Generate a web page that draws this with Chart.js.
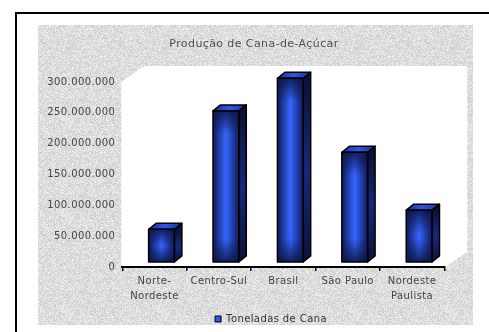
<!DOCTYPE html>
<html>
<head>
<meta charset="utf-8">
<script src="https://cdn.jsdelivr.net/npm/chart.js@4/dist/chart.umd.min.js"></script>
<style>
  html, body { margin: 0; padding: 0; background: #fff; }
  #wrap { width: 489px; height: 332px; position: relative; }
</style>
</head>
<body>
<div id="wrap"><canvas id="c" width="489" height="332"></canvas></div>
<script>
// ---- data ----
const categories = [['Norte-', 'Nordeste'], 'Centro-Sul', 'Brasil', 'São Paulo', ['Nordeste', 'Paulista']];
const seriesName = 'Toneladas de Cana';
const toneladas = [53000000, 245000000, 298000000, 178000000, 84000000];
const yTicksMax = 300000000;
const yTicksStep = 50000000;
const chartTitle = 'Produção de Cana-de-Açúcar';

// ---- helpers ----
function fmt(n) {
  return String(Math.round(n)).replace(/\B(?=(\d{3})+(?!\d))/g, '.');
}

// deterministic speckle texture for the grey panel
function makeTexture() {
  const c = document.createElement('canvas');
  c.width = 96; c.height = 96;
  const g = c.getContext('2d');
  const img = g.createImageData(96, 96);
  let s = 12345;
  for (let i = 0; i < 96 * 96; i++) {
    s = (s * 1103515245 + 12345) & 0x7fffffff;
    const r = (s >> 8) % 100;
    const v = 203 + Math.floor(r * 0.38);
    img.data[i * 4] = v; img.data[i * 4 + 1] = v; img.data[i * 4 + 2] = v; img.data[i * 4 + 3] = 255;
  }
  g.putImageData(img, 0, 0);
  return c;
}

const OX = 7, OY = 5;      // bar placement inside depth
const DX = 7.5, DY = 6;    // bar depth
const WX = 23, WY = 16;    // wall depth
const SPACING = '0.4px';

const backdrop = {
  id: 'backdrop',
  beforeLayout(chart) { chart.ctx.letterSpacing = SPACING; },
  afterLayout(chart) {
    const lg = chart.legend;
    if (lg) { lg.left += 48.85; lg.right += 48.85; lg.top += 2; lg.bottom += 2; }
    const tb = chart.titleBlock;
    if (tb) { tb.left += 31.85; tb.right += 31.85; }
  },
  beforeDraw(chart) {
    const ctx = chart.ctx;
    const a = chart.chartArea;
    ctx.save();
    ctx.fillStyle = '#ffffff';
    ctx.fillRect(0, 0, chart.width, chart.height);
    // frame
    ctx.strokeStyle = '#000';
    ctx.lineWidth = 2;
    ctx.beginPath();
    ctx.moveTo(16, 340); ctx.lineTo(16, 13); ctx.lineTo(500, 13);
    ctx.stroke();
    // grey textured panel
    const pat = ctx.createPattern(makeTexture(), 'repeat');
    ctx.fillStyle = pat;
    ctx.fillRect(38, 25, 435, 300);
    // white walls / plot area
    ctx.fillStyle = '#ffffff';
    ctx.beginPath();
    ctx.moveTo(a.left - 1, a.bottom);
    ctx.lineTo(a.left - 1, a.top);
    ctx.lineTo(a.left - 1 + WX, a.top - WY);
    ctx.lineTo(a.right + WX, a.top - WY);
    ctx.lineTo(a.right + WX, a.bottom - WY + 1);
    ctx.lineTo(a.right + 1, a.bottom);
    ctx.closePath();
    ctx.fill();
    ctx.restore();
    ctx.letterSpacing = SPACING;
  },
  beforeDatasetsDraw(chart) {
    const ctx = chart.ctx;
    const meta = chart.getDatasetMeta(0);
    ctx.save();
    ctx.lineJoin = 'round';
    ctx.strokeStyle = '#000';
    ctx.lineWidth = 1.5;
    meta.data.forEach(bar => {
      const p = bar.getProps(['x', 'y', 'base', 'width'], true);
      const w = p.width;
      const L = p.x - w / 2 + OX, R = L + w, T = p.y - OY, B = p.base - OY;
      // side face
      const sg = ctx.createLinearGradient(0, T, 0, B);
      sg.addColorStop(0, '#0a1236');
      sg.addColorStop(0.5, '#18287a');
      sg.addColorStop(1, '#0a1236');
      ctx.fillStyle = sg;
      ctx.beginPath();
      ctx.moveTo(R, T); ctx.lineTo(R + DX, T - DY); ctx.lineTo(R + DX, B - DY); ctx.lineTo(R, B);
      ctx.closePath(); ctx.fill(); ctx.stroke();
      // top face
      const tg = ctx.createLinearGradient(L, 0, R + DX, 0);
      tg.addColorStop(0, '#1b2f98');
      tg.addColorStop(0.5, '#2f55e6');
      tg.addColorStop(1, '#1b2f98');
      ctx.fillStyle = tg;
      ctx.beginPath();
      ctx.moveTo(L, T); ctx.lineTo(L + DX, T - DY); ctx.lineTo(R + DX, T - DY); ctx.lineTo(R, T);
      ctx.closePath(); ctx.fill(); ctx.stroke();
      // front face: "from centre" gradient
      const h = B - T;
      ctx.save();
      ctx.beginPath(); ctx.rect(L, T, w, h); ctx.clip();
      const hg = ctx.createLinearGradient(L, 0, R, 0);
      hg.addColorStop(0, '#101a5c');
      hg.addColorStop(0.5, '#3466ff');
      hg.addColorStop(1, '#101a5c');
      ctx.fillStyle = hg;
      ctx.fillRect(L, T, w, h);
      const edge = Math.min(h / 2, w * 0.9);
      const vg = ctx.createLinearGradient(0, T, 0, B);
      vg.addColorStop(0, 'rgba(12,20,70,0.85)');
      vg.addColorStop(Math.min(0.5, edge / h), 'rgba(12,20,70,0)');
      vg.addColorStop(Math.max(0.5, 1 - edge / h), 'rgba(12,20,70,0)');
      vg.addColorStop(1, 'rgba(12,20,70,0.85)');
      ctx.fillStyle = vg;
      ctx.fillRect(L, T, w, h);
      ctx.restore();
      ctx.strokeRect(L, T, w, h);
    });
    ctx.restore();
    return false;
  }
};

const ctxEl = document.getElementById('c');
new Chart(ctxEl, {
  type: 'bar',
  data: {
    labels: categories,
    datasets: [{
      label: seriesName,
      data: toneladas,
      backgroundColor: '#2f55f0',
      borderColor: '#000',
      borderWidth: 1,
      barPercentage: 0.4,
      categoryPercentage: 1
    }]
  },
  options: {
    responsive: false,
    animation: false,
    devicePixelRatio: 1,
    layout: { padding: { left: 0, top: 37.4, right: 44.7, bottom: 0 } },
    plugins: {
      tooltip: { enabled: false },
      title: {
        display: true,
        text: chartTitle,
        color: '#505050',
        font: { family: 'DejaVu Sans', size: 11, weight: 'normal' },
        padding: { top: 0, bottom: 31.4 }
      },
      legend: {
        display: true,
        position: 'bottom',
        labels: {
          color: '#333',
          font: { family: 'DejaVu Sans', size: 10 },
          boxWidth: 6,
          boxHeight: 6,
          padding: 4,
          generateLabels(chart) {
            return [{
              text: seriesName,
              fillStyle: '#2f55f0',
              strokeStyle: '#000',
              lineWidth: 1,
              fontColor: '#333',
              datasetIndex: 0
            }];
          }
        }
      }
    },
    scales: {
      x: {
        grid: { display: true, drawOnChartArea: false, drawTicks: true, tickLength: 4, color: '#000', lineWidth: 1.5, offset: true },
        border: { display: true, color: '#000', width: 2 },
        ticks: {
          color: '#444',
          font: { family: 'DejaVu Sans', size: 10, lineHeight: 1.5 },
          padding: 3,
          maxRotation: 0,
          autoSkip: false
        },
        afterFit(scale) { scale.height = 41; }
      },
      y: {
        min: 0,
        max: yTicksMax,
        grid: { display: false, drawTicks: false },
        border: { display: false },
        ticks: {
          stepSize: yTicksStep,
          color: '#444',
          font: { family: 'DejaVu Sans', size: 10 },
          padding: 7,
          callback: v => fmt(v)
        },
        afterFit(scale) { scale.width = 122.3; }
      }
    }
  },
  plugins: [backdrop]
});
</script>
</body>
</html>
